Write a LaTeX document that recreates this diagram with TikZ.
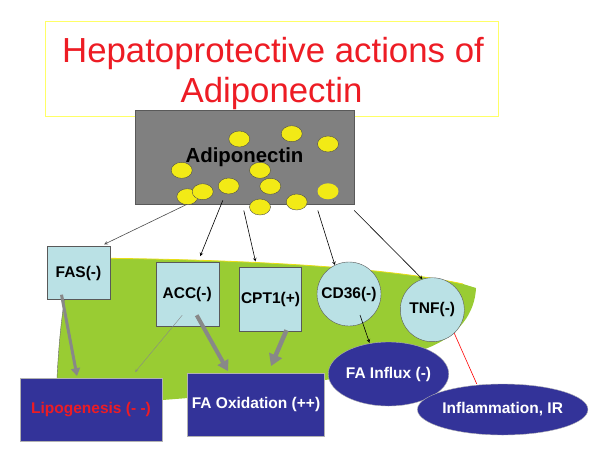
\documentclass[tikz,border=0pt]{standalone}
\usepackage{fontspec}
\setmainfont{Liberation Sans}
\usepackage{xcolor}
\usetikzlibrary{arrows.meta,shapes.geometric}
\definecolor{titlered}{RGB}{237,28,36}
\definecolor{titleyellow}{RGB}{255,255,102}
\definecolor{adigray}{RGB}{128,128,128}
\definecolor{blobyellow}{RGB}{242,234,22}
\definecolor{leafgreen}{RGB}{153,204,51}
\definecolor{enzcyan}{RGB}{186,225,229}
\definecolor{effnavy}{RGB}{51,51,153}
\definecolor{arrowgray}{RGB}{136,136,136}

\begin{document}
\begin{tikzpicture}[x=1pt,y=-1pt,
    enz/.style={draw=black!65,fill=enzcyan,inner sep=0pt,font=\bfseries\fontsize{15.5}{18}\selectfont},
    effect/.style={draw=black!30,fill=effnavy,text=white,inner sep=0pt,font=\bfseries\fontsize{15.5}{18}\selectfont},
    blob/.style={ellipse,draw=black!70,fill=blobyellow,minimum width=21pt,minimum height=16pt,inner sep=0pt},
    fat/.style={draw=arrowgray,line width=#1,-{Triangle[length=2.6*#1,width=3*#1]}}]
      \useasboundingbox (0,0) rectangle (600,472);
      % liver
      \fill[leafgreen] (57,378) .. controls (60,320) and (66,280) .. (75,258)
        .. controls (250,259) and (390,268) .. (463,284) -- (476,288)
        .. controls (475,312) and (460,336) .. (425,349) -- (340,378) -- (188,398) -- (150,401) -- (57,402) -- cycle;
      \draw[yellow!90!black,line width=0.8pt] (75,258) .. controls (250,259) and (390,268) .. (463,284);
      \draw[black!60,thin] (57,378) .. controls (60,320) and (66,280) .. (75,258);
      % title
      \node[draw=titleyellow,thin,minimum width=453pt,minimum height=95pt] (titlebox) at (271.5,68.2) {};
      \node[text=titlered,font=\fontsize{34.8}{40}\selectfont,anchor=base] (title1) at (273,62) {Hepatoprotective actions of};
      \node[text=titlered,font=\fontsize{34.8}{40}\selectfont,anchor=base] (title2) at (271.5,102) {Adiponectin};
      % adiponectin
      \node[draw=black!65,fill=adigray,minimum width=219pt,minimum height=94pt,inner sep=0pt,
        font=\bfseries\fontsize{20.4}{24}\selectfont] (adipo) at (244.5,157.2) {Adiponectin};
      \foreach \bx/\by [count=\i] in {239.3/139,291.7/133.7,328/144,181.7/170.3,260/170.3,187.3/196.7,
          202.7/191.7,228.7/186,270.3/186.3,260/207,296.7/202}
        \node[blob] (b\i) at (\bx,\by) {};
      \node[blob,draw=none] (b12) at (328,191.3) {};
      % targets
      \node[enz,minimum width=63pt,minimum height=53pt] (fas) at (78.5,273) {FAS(-)};
      \node[enz,minimum width=63pt,minimum height=63.7pt] (acc) at (187.2,294.2) {ACC(-)};
      \node[enz,minimum width=62.3pt,minimum height=63.3pt] (cpt) at (270.5,299.3) {CPT1(+)};
      \node[enz,circle,minimum size=64pt] (cd36) at (349,294) {CD36(-)};
      \node[enz,circle,minimum size=64pt] (tnf) at (432.3,309.7) {TNF(-)};
      % effects
      \node[effect,minimum width=142pt,minimum height=63pt,text=titlered] (lipo) at (91,409.7) {Lipogenesis (- -)};
      \node[effect,minimum width=137pt,minimum height=62.4pt] (oxid) at (256,404.5) {FA Oxidation (++)};
      \node[effect,ellipse,minimum width=110pt,minimum height=64pt] (influx) at (388.5,374) {FA Influx (-)};
      \node[effect,ellipse,minimum width=157pt,minimum height=51pt] (inflam) at (502.7,409.5) {Inflammation, IR};
      % adiponectin acts on
      \draw[->,>=stealth,line width=0.6pt,black!70] ([shift={(52,0)}]adipo.south west)--([shift={(-6,-2)}]fas.north east);
      \draw[->,>=stealth,line width=0.6pt] ([shift={(88,-4)}]adipo.south west)--([shift={(13,-6)}]acc.north);
      \draw[->,>=stealth,line width=0.6pt] ([shift={(109,6)}]adipo.south west)--([shift={(-15,-6)}]cpt.north);
      \draw[->,>=stealth,line width=0.6pt] ([shift={(183,6)}]adipo.south west)--(cd36.116);
      \draw[->,>=stealth,line width=0.6pt] ([shift={(0,6)}]adipo.south east)--(tnf.108);
      % effects of targets
      \draw[fat=3pt] ([shift={(-17,-5)}]fas.south)--([shift={(-14,-2)}]lipo.north);
      \draw[->,>=stealth,thin,arrowgray] ([shift={(-5,-11)}]acc.south)--([shift={(-27,-6)}]lipo.north east);
      \draw[fat=4pt] ([shift={(9.5,-11)}]acc.south)--([shift={(-28,-2)}]oxid.north);
      \draw[fat=4.5pt] ([shift={(16,-1)}]cpt.south)--([shift={(15,-7)}]oxid.north);
      \draw[->,>=stealth,line width=0.6pt] ([shift={(11,21)}]cd36.center)--([shift={(-19,1)}]influx.north);
      \draw[red,line width=0.6pt] (tnf.-47)--([shift={(-26,0)}]inflam.north);
    \end{tikzpicture}
\end{document}
